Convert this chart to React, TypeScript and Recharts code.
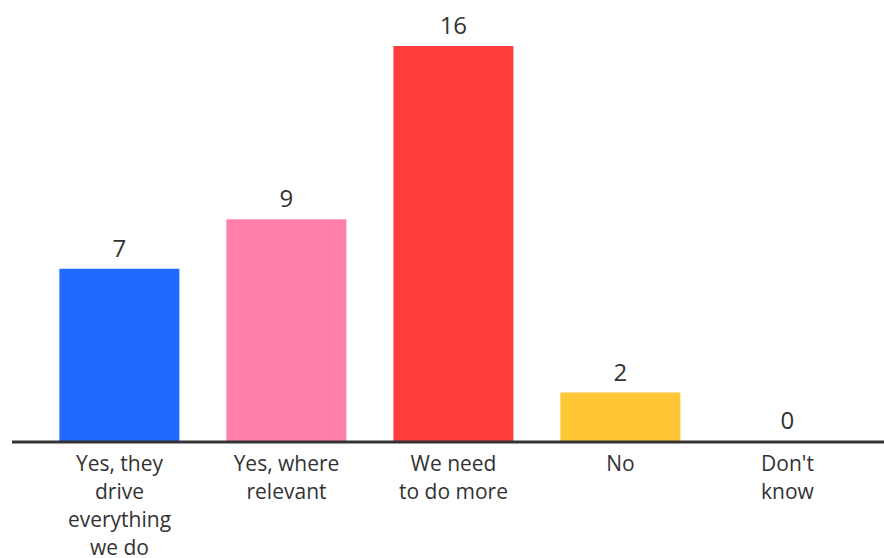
import { BarChart, Bar, XAxis, YAxis, Cell, LabelList } from 'recharts';

const categories = ["Yes, they drive everything we do", "Yes, where relevant", "We need to do more", "No", "Don't know"];
const tickLines = [
    ["Yes, they", "drive", "everything", "we do"],
    ["Yes, where", "relevant"],
    ["We need", "to do more"],
    ["No"],
    ["Don't", "know"],
];
const counts = [7, 9, 16, 2, 0];
const barColors = ["#1F6BFF", "#FF80AB", "#FF3D3D", "#FFC636", "transparent"];

const data = categories.map((name, i) => ({ name, value: counts[i] }));

const FONT = "'Open Sans', sans-serif";

const MultiLineTick = ({ x, y, payload }: any) => {
    const lines = tickLines[payload.index] || [payload.value];
    return (
        <text x={x} y={y} textAnchor="middle" fill="#333" fontSize={21} fontFamily={FONT}>
            {lines.map((line: string, i: number) => (
                <tspan key={i} x={x} dy={i === 0 ? 21 : 28}>{line}</tspan>
            ))}
        </text>
    );
};

export default function App() {
    return (
        <div style={{ position: 'absolute', left: 0, top: 0, width: 884, height: 558, background: '#fff' }}>
            <BarChart
                width={884}
                height={558}
                data={data}
                margin={{ top: 46, right: 0, bottom: 0, left: 12 }}
                barCategoryGap="14%"
            >
                <XAxis
                    dataKey="name"
                    height={116}
                    padding={{ left: 24, right: 13 }}
                    axisLine={{ stroke: '#333', strokeWidth: 3 }}
                    tickLine={false}
                    interval={0}
                    tick={<MultiLineTick />}
                />
                <YAxis hide domain={[0, 16]} />
                <Bar dataKey="value" minPointSize={1} isAnimationActive={false}>
                    {data.map((d, i) => (
                        <Cell key={i} fill={barColors[i]} />
                    ))}
                    <LabelList
                        dataKey="value"
                        position="top"
                        offset={12}
                        fill="#333"
                        fontSize={24}
                        fontFamily={FONT}
                    />
                </Bar>
            </BarChart>
        </div>
    );
}
